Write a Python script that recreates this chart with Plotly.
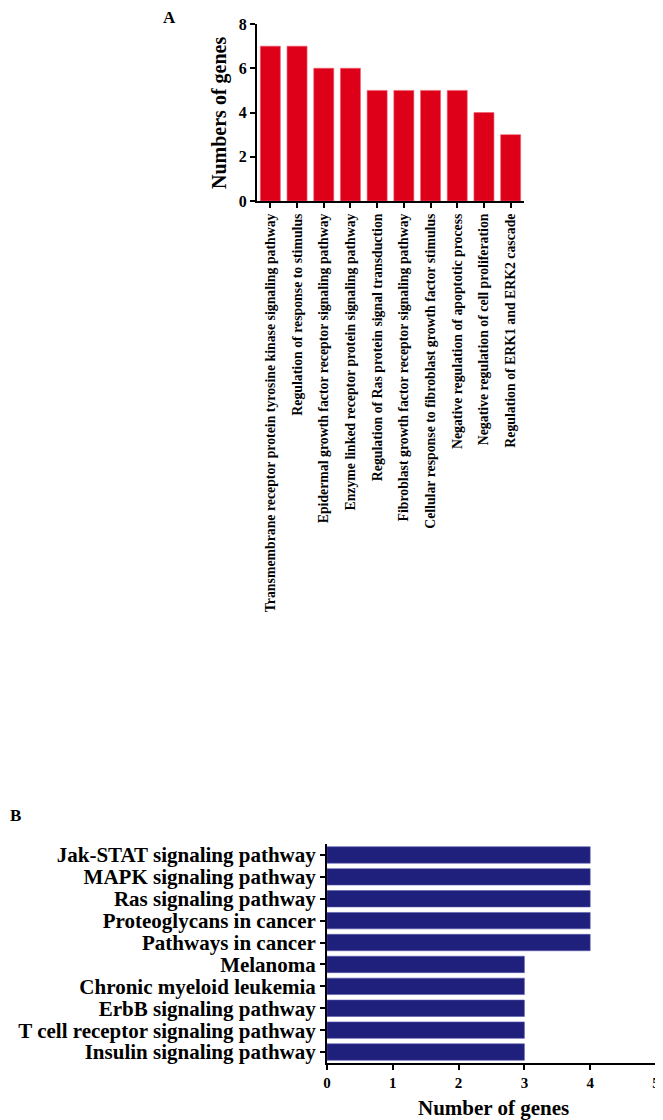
import plotly.graph_objects as go

# Panel A data (GO terms)
go_terms = [
    "Transmembrane receptor protein tyrosine kinase signaling pathway",
    "Regulation of response to stimulus",
    "Epidermal growth factor receptor signaling pathway",
    "Enzyme linked receptor protein signaling pathway",
    "Regulation of Ras protein signal transduction",
    "Fibroblast growth factor receptor signaling pathway",
    "Cellular response to fibroblast growth factor stimulus",
    "Negative regulation of apoptotic process",
    "Negative regulation of cell proliferation",
    "Regulation of ERK1 and ERK2 cascade",
]
go_counts = [7, 7, 6, 6, 5, 5, 5, 5, 4, 3]
a_ticks = [0, 2, 4, 6, 8]

# Panel B data (KEGG pathways)
kegg_terms = [
    "Jak-STAT signaling pathway",
    "MAPK signaling pathway",
    "Ras signaling pathway",
    "Proteoglycans in cancer",
    "Pathways in cancer",
    "Melanoma",
    "Chronic myeloid leukemia",
    "ErbB signaling pathway",
    "T cell receptor signaling pathway",
    "Insulin signaling pathway",
]
kegg_counts = [4, 4, 4, 4, 4, 3, 3, 3, 3, 3]
b_ticks = [0, 1, 2, 3, 4, 5]

FONT = "Liberation Serif, Times New Roman, serif"
OFF = 8  # page body margin
W, H = 663 - OFF, 1120 - OFF


def px(x):
    return (x - OFF) / W


def py(y):
    return 1 - (y - OFF) / H


fig = go.Figure()

fig.add_trace(go.Bar(
    x=go_terms, y=go_counts, xaxis="x", yaxis="y",
    marker=dict(color="#de0018", line=dict(color="#f06070", width=0.6)),
    showlegend=False,
))

fig.add_trace(go.Bar(
    x=kegg_counts, y=kegg_terms, orientation="h", xaxis="x2", yaxis="y2",
    marker=dict(color="#1f1f7c", line=dict(color="#5a5ab0", width=0.6)),
    showlegend=False,
))

axis_common = dict(
    showline=True, linecolor="black", linewidth=2,
    ticks="outside", ticklen=5, tickwidth=1.5, tickcolor="black",
    showgrid=False, zeroline=False, automargin=False,
    ticklabeloverflow="allow",
)

fig.update_layout(
    width=W, height=H,
    margin=dict(l=0, r=0, t=0, b=0),
    paper_bgcolor="white", plot_bgcolor="white",
    font=dict(family=FONT, color="black", weight="bold"),
    bargap=0.25,
    xaxis=dict(
        domain=[px(257), px(524)], anchor="y",
        range=[-0.5, 9.5], tickangle=-90,
        tickmode="array", tickvals=go_terms,
        tickfont=dict(size=13.8, family=FONT, weight="bold"),
        **axis_common,
    ),
    yaxis=dict(
        domain=[py(201), py(24)], anchor="x",
        range=[0, 8], tickvals=a_ticks,
        tickfont=dict(size=16, family=FONT, weight="bold"),
        **axis_common,
    ),
    xaxis2=dict(
        domain=[px(327), px(656)], anchor="y2",
        range=[0, 5], tickvals=b_ticks,
        tickfont=dict(size=15, family=FONT, weight="bold"),
        **axis_common,
    ),
    yaxis2=dict(
        domain=[py(1063), py(844)], anchor="x2",
        range=[9.5, -0.5],
        tickmode="array", tickvals=kegg_terms,
        tickfont=dict(size=21, family=FONT, weight="bold"),
        **axis_common,
    ),
    annotations=[
        dict(text="A", x=px(169), y=py(18), xref="paper", yref="paper",
             xanchor="center", yanchor="middle",
             showarrow=False, font=dict(size=17, family=FONT, weight="bold")),
        dict(text="B", x=px(15), y=py(815), xref="paper", yref="paper",
             xanchor="center", yanchor="middle",
             showarrow=False, font=dict(size=17, family=FONT, weight="bold")),
        dict(text="Numbers of genes", x=px(220), y=py(113), xref="paper", yref="paper",
             xanchor="center", yanchor="middle",
             textangle=-90, showarrow=False,
             font=dict(size=20, family=FONT, weight="bold")),
        dict(text="Number of genes", x=px(493), y=py(1108), xref="paper", yref="paper",
             xanchor="center", yanchor="middle",
             showarrow=False, font=dict(size=21, family=FONT, weight="bold")),
    ],
)

fig.write_html("out.html")
